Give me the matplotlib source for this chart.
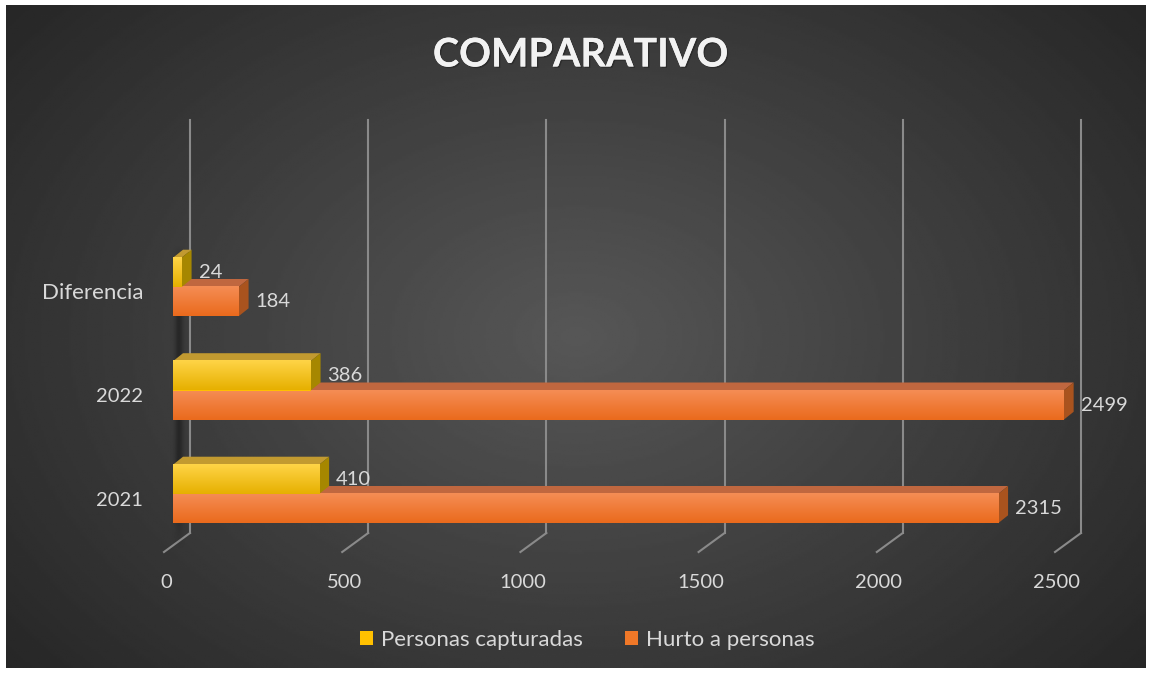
import numpy as np
import matplotlib.pyplot as plt
import matplotlib.colors as mcolors
import matplotlib.patheffects as pe
from matplotlib.patches import Polygon, Patch

plt.rcParams['font.family'] = ['Lato', 'DejaVu Sans']

# Datos
categories = ["2021", "2022", "Diferencia"]
capturadas = [410, 386, 24]
hurto = [2315, 2499, 184]
ticks = [0, 500, 1000, 1500, 2000, 2500]
series_names = ["Personas capturadas", "Hurto a personas"]

W, H = 1151, 673
fig = plt.figure(figsize=(W / 100, H / 100), dpi=100)
fig.patch.set_facecolor("white")

# Fondo oscuro con degradado radial
bg = fig.add_axes([6 / W, 5 / H, 1140 / W, 663 / H])
yy, xx = np.mgrid[0:1:300j, 0:1:500j]
r = np.sqrt(((xx - 0.5) / 0.62) ** 2 + ((yy - 0.5) / 0.75) ** 2)
shade = np.clip(0.34 - 0.18 * r, 0.15, 0.34)
bg.imshow(shade, cmap="gray", vmin=0, vmax=1, aspect="auto", extent=[0, 1, 0, 1])
bg.axis("off")

# Ejes principales (escala: unidades por pixel)
ax = fig.add_axes([0, 0, 1, 1])
ax.set_facecolor("none")
UX = 2500 / (1081 - 190)
CAT_PX = 103.5


def xd(px):
    return (px - 173) * UX


def yd(py):
    return (494 - py) / CAT_PX


grid_col = "#8a8a8a"
for v in ticks:
    ax.plot([v + 17 * UX, v + 17 * UX], [yd(533), yd(120)], color=grid_col, lw=1.5, zorder=1)
    ax.plot([v - 9 * UX, v + 17 * UX], [yd(552), yd(533)], color=grid_col, lw=1.5, zorder=1)
    ax.text(v - 7 * UX, yd(582), str(v), ha="center", va="center",
            color="#D9D9D9", fontsize=14.5)

# sombra del eje vertical
sh = np.zeros((200, 40, 4))
xs = np.linspace(-1, 1, 40)
ys = np.linspace(0, 1, 200)
alpha = np.exp(-(xs / 0.32) ** 2)[None, :] * np.clip(np.minimum(ys / 0.1, (1 - ys) / 0.2), 0, 1)[:, None] * 0.35
sh[..., 3] = alpha
ax.imshow(sh, extent=[xd(166), xd(192), yd(550), yd(245)], aspect="auto",
          zorder=1.5, interpolation="bilinear")

pos = np.arange(len(categories))
bh = 0.283
ddx = 10 * UX
ddy = 8 / CAT_PX


def bar3d(bars, top_col, bot_col, lid_col, side_col, z):
    for b in bars:
        x0, y0 = b.get_x(), b.get_y()
        w, h = b.get_width(), b.get_height()
        x1, y1 = x0 + w, y0 + h
        c0 = np.array(mcolors.to_rgb(top_col))
        c1 = np.array(mcolors.to_rgb(bot_col))
        g = np.linspace(0, 1, 64)[:, None, None]
        img = c0 + (c1 - c0) * g
        ax.imshow(img, extent=[x0, x1, y0, y1], origin="upper", aspect="auto",
                  zorder=z + 0.1, interpolation="bilinear")
        ax.add_patch(Polygon([(x0, y1), (x1, y1), (x1 + ddx, y1 + ddy), (x0 + ddx, y1 + ddy)],
                             closed=True, facecolor=lid_col, edgecolor="none", zorder=z))
        ax.add_patch(Polygon([(x1, y0), (x1, y1), (x1 + ddx, y1 + ddy), (x1 + ddx, y0 + ddy)],
                             closed=True, facecolor=side_col, edgecolor="none", zorder=z))


b_h = ax.barh(pos - bh, hurto, height=bh, align="edge", color="#F07828", zorder=3)
bar3d(b_h, "#F58D55", "#EA6A1C", "#C0673F", "#A9531E", 3)
b_c = ax.barh(pos, capturadas, height=bh, align="edge", color="#FFC000", zorder=4)
bar3d(b_c, "#FFD447", "#E6B000", "#C29A30", "#A68700", 4)

# etiquetas de datos
for i in range(len(categories)):
    ax.text(capturadas[i] + 17 * UX, pos[i] + bh / 2, str(capturadas[i]),
            ha="left", va="center", color="#D9D9D9", fontsize=14.5, zorder=6)
    ax.text(hurto[i] + 17 * UX, pos[i] - bh / 2, str(hurto[i]),
            ha="left", va="center", color="#D9D9D9", fontsize=14.5, zorder=6)
    ax.text(xd(143), pos[i] - 6 / CAT_PX, categories[i], ha="right", va="center",
            color="#D9D9D9", fontsize=16 if categories[i] == "Diferencia" else 14.5)

ax.set_xlim(xd(0), xd(W))
ax.set_ylim(yd(H), yd(0))
ax.axis("off")

t = fig.text(581 / W, 1 - 55 / H, "COMPARATIVO", ha="center", va="center",
             fontsize=28.5, fontweight="bold", color="#F2F2F2")
t.set_path_effects([pe.withSimplePatchShadow(offset=(1, -1), shadow_rgbFace="black", alpha=0.25),
                    pe.Normal()])

handles = [Patch(facecolor="#FFC000"), Patch(facecolor="#F07828")]
fig.legend(handles, series_names, loc="center", bbox_to_anchor=(587 / W, 1 - 640 / H),
           ncol=2, frameon=False, fontsize=16, labelcolor="#D9D9D9",
           handlelength=0.6, handleheight=0.6, handletextpad=0.35, columnspacing=1.9)

fig.savefig("out.png", dpi=100)
